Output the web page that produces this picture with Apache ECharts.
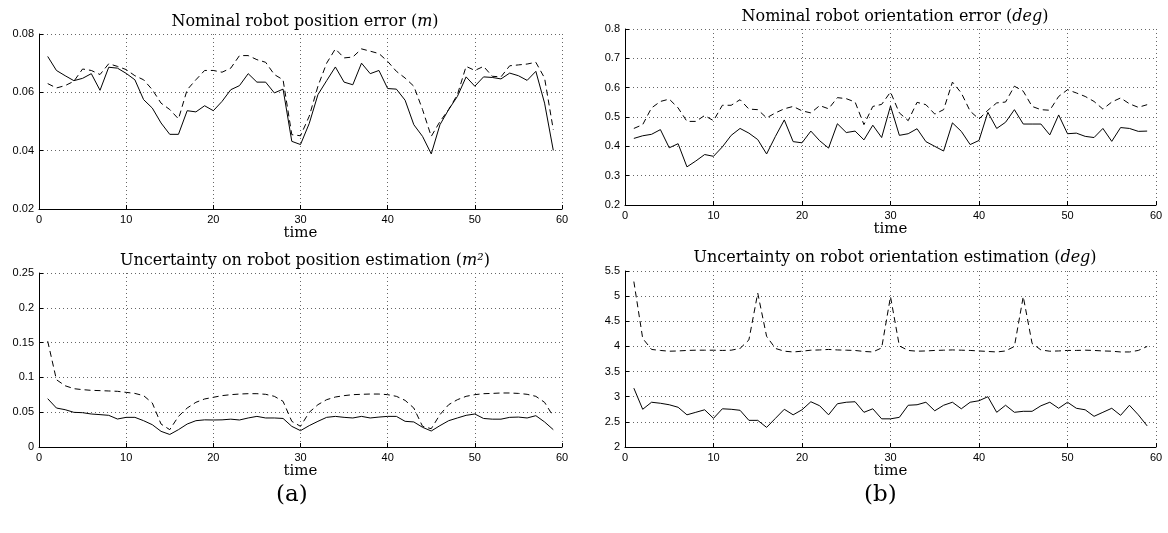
<!DOCTYPE html>
<html lang="en">
<head>
<meta charset="UTF-8">
<title>Robot localization errors</title>
<script src="https://cdn.jsdelivr.net/npm/echarts@6/dist/echarts.min.js"></script>
<style>
    html, body { margin: 0; padding: 0; background: #fff; }
    #container { width: 1168px; height: 533px; }
</style>
</head>
<body>
<div id="container"></div>
<script>
    // time steps (x axis)
    var time = [1, 2, 3, 4, 5, 6, 7, 8, 9, 10, 11, 12, 13, 14, 15, 16, 17, 18, 19, 20,
        21, 22, 23, 24, 25, 26, 27, 28, 29, 30, 31, 32, 33, 34, 35, 36, 37, 38, 39, 40,
        41, 42, 43, 44, 45, 46, 47, 48, 49, 50, 51, 52, 53, 54, 55, 56, 57, 58, 59];

    // (a) top: nominal robot position error (m)
    var posErrSolid = [0.0723, 0.0675, 0.0657, 0.064, 0.0648, 0.0664, 0.0607, 0.0686, 0.0683, 0.0665,
        0.0643, 0.0575, 0.0546, 0.0495, 0.0456, 0.0456, 0.0537, 0.0533, 0.0554, 0.0537,
        0.0569, 0.0609, 0.0623, 0.0664, 0.0635, 0.0635, 0.0598, 0.0611, 0.0432, 0.0421,
        0.0493, 0.0592, 0.064, 0.0687, 0.0635, 0.0626, 0.07, 0.0664, 0.0675, 0.0613,
        0.0611, 0.0573, 0.0489, 0.0449, 0.0389, 0.0489, 0.0541, 0.0586, 0.0653, 0.0621,
        0.0653, 0.0651, 0.0646, 0.0666, 0.0657, 0.0641, 0.0672, 0.0563, 0.0401];
    var posErrDashed = [0.063, 0.0615, 0.0623, 0.0638, 0.068, 0.0675, 0.0661, 0.0698, 0.0689, 0.0678,
        0.0657, 0.0643, 0.0609, 0.0563, 0.0541, 0.0509, 0.0609, 0.0643, 0.0675, 0.0675,
        0.0669, 0.0683, 0.0726, 0.0726, 0.0712, 0.0703, 0.0661, 0.0643, 0.0455, 0.0451,
        0.0518, 0.0621, 0.07, 0.0749, 0.0718, 0.0721, 0.0749, 0.0741, 0.0733, 0.0706,
        0.0672, 0.0649, 0.0621, 0.0541, 0.0449, 0.05, 0.0541, 0.0592, 0.0689, 0.0675,
        0.0689, 0.0655, 0.0653, 0.0691, 0.0694, 0.0697, 0.0703, 0.0649, 0.0472];

    // (a) bottom: uncertainty on robot position estimation (m^2)
    var posUncSolid = [0.0694, 0.056, 0.0536, 0.0498, 0.0493, 0.0474, 0.0465, 0.0455, 0.0402, 0.0426,
        0.0426, 0.0378, 0.032, 0.0225, 0.018, 0.0249, 0.033, 0.0378, 0.039, 0.0388,
        0.039, 0.04, 0.0388, 0.0417, 0.044, 0.0417, 0.0417, 0.041, 0.0297, 0.0235,
        0.0307, 0.0369, 0.0426, 0.044, 0.0426, 0.0417, 0.044, 0.0417, 0.043, 0.044,
        0.044, 0.0369, 0.036, 0.0283, 0.023, 0.0307, 0.0378, 0.0417, 0.0455, 0.0474,
        0.041, 0.04, 0.04, 0.0426, 0.043, 0.0417, 0.045, 0.036, 0.0249];
    var posUncDashed = [0.152, 0.0967, 0.088, 0.0838, 0.0824, 0.0814, 0.081, 0.0805, 0.08, 0.0785,
        0.077, 0.0738, 0.0632, 0.033, 0.0249, 0.044, 0.056, 0.0642, 0.069, 0.0714,
        0.0738, 0.0752, 0.0761, 0.0766, 0.0766, 0.0757, 0.0728, 0.0656, 0.0369, 0.0297,
        0.0498, 0.0608, 0.068, 0.0718, 0.0738, 0.0752, 0.0757, 0.0761, 0.0761, 0.0752,
        0.0728, 0.067, 0.056, 0.0297, 0.0263, 0.0465, 0.0608, 0.068, 0.0728, 0.0752,
        0.0766, 0.077, 0.0776, 0.0776, 0.077, 0.0757, 0.0728, 0.0642, 0.044];

    // (b) top: nominal robot orientation error (deg)
    var oriErrSolid = [0.427, 0.436, 0.441, 0.457, 0.395, 0.409, 0.33, 0.35, 0.372, 0.366,
        0.398, 0.4375, 0.461, 0.445, 0.423, 0.374, 0.434, 0.49, 0.416, 0.412,
        0.452, 0.419, 0.394, 0.477, 0.447, 0.452, 0.422, 0.472, 0.43, 0.5375,
        0.4375, 0.443, 0.46, 0.416, 0.4, 0.384, 0.48, 0.451, 0.406, 0.42,
        0.516, 0.461, 0.482, 0.525, 0.476, 0.476, 0.476, 0.439, 0.507, 0.443,
        0.445, 0.434, 0.43, 0.461, 0.417, 0.464, 0.461, 0.451, 0.452];
    var oriErrDashed = [0.461, 0.474, 0.531, 0.553, 0.561, 0.531, 0.485, 0.485, 0.505, 0.4875,
        0.54, 0.54, 0.559, 0.527, 0.525, 0.497, 0.514, 0.528, 0.536, 0.521,
        0.514, 0.539, 0.528, 0.566, 0.5625, 0.551, 0.474, 0.536, 0.543, 0.585,
        0.514, 0.4875, 0.55, 0.542, 0.51, 0.525, 0.619, 0.582, 0.52, 0.493,
        0.523, 0.548, 0.551, 0.605, 0.588, 0.536, 0.525, 0.523, 0.57, 0.593,
        0.582, 0.57, 0.553, 0.527, 0.551, 0.565, 0.545, 0.533, 0.542];

    // (b) bottom: uncertainty on robot orientation estimation (deg)
    var oriUncSolid = [3.17, 2.75, 2.89, 2.87, 2.84, 2.79, 2.64, 2.69, 2.74, 2.57,
        2.76, 2.75, 2.73, 2.53, 2.53, 2.39, 2.57, 2.75, 2.64, 2.74,
        2.90, 2.82, 2.64, 2.86, 2.89, 2.90, 2.69, 2.76, 2.56, 2.56,
        2.59, 2.83, 2.84, 2.89, 2.72, 2.83, 2.89, 2.76, 2.89, 2.92,
        3.0, 2.69, 2.83, 2.69, 2.71, 2.71, 2.82, 2.89, 2.77, 2.89,
        2.77, 2.74, 2.61, 2.69, 2.77, 2.63, 2.83, 2.64, 2.42];
    var oriUncDashed = [5.29, 4.16, 3.94, 3.92, 3.905, 3.91, 3.92, 3.925, 3.925, 3.925,
        3.92, 3.925, 3.96, 4.13, 5.06, 4.2, 3.96, 3.905, 3.89, 3.905,
        3.925, 3.93, 3.94, 3.93, 3.925, 3.92, 3.9, 3.89, 3.97, 4.99,
        4.01, 3.92, 3.905, 3.91, 3.92, 3.925, 3.93, 3.925, 3.92, 3.91,
        3.9, 3.89, 3.91, 4.0, 4.99, 4.06, 3.93, 3.905, 3.91, 3.92,
        3.92, 3.925, 3.92, 3.91, 3.905, 3.89, 3.89, 3.92, 4.0];

    var chart = echarts.init(document.getElementById('container'));

    var serifFont = 'DejaVu Serif';
    var sansFont = 'Liberation Sans';

    function pairs(values) {
        return time.map(function (t, i) { return [t, values[i]]; });
    }

    function xAxisFor(gridIndex) {
        return {
            type: 'value', gridIndex: gridIndex, min: 0, max: 60, interval: 10,
            name: 'time', nameLocation: 'middle', nameGap: 14,
            nameTextStyle: { fontFamily: serifFont, fontSize: 15, color: '#000' },
            axisLine: { lineStyle: { color: '#000', width: 1 } },
            axisTick: { inside: true, length: 4, lineStyle: { color: '#000' } },
            axisLabel: { fontFamily: sansFont, fontSize: 11, color: '#000', margin: 5 },
            splitLine: { show: true, lineStyle: { color: '#666', type: [1, 3], width: 1 } }
        };
    }

    function yAxisFor(gridIndex, min, max, interval) {
        return {
            type: 'value', gridIndex: gridIndex, min: min, max: max, interval: interval,
            axisLine: { show: true, lineStyle: { color: '#000', width: 1 } },
            axisTick: { show: true, inside: true, length: 4, lineStyle: { color: '#000' } },
            axisLabel: { fontFamily: sansFont, fontSize: 11, color: '#000', margin: 5 },
            splitLine: { show: true, lineStyle: { color: '#666', type: [1, 3], width: 1 } }
        };
    }

    function lineSeries(gridIndex, values, dashed) {
        return {
            type: 'line', xAxisIndex: gridIndex, yAxisIndex: gridIndex,
            data: pairs(values), symbol: 'none', silent: true,
            lineStyle: { color: '#000', width: 1, type: dashed ? [6, 4] : 'solid' }
        };
    }

    var titleRich = {
        it: { fontFamily: serifFont, fontSize: 16, fontStyle: 'italic', color: '#000' }
    };

    function titleFor(text, x, y) {
        return {
            text: text, left: x, top: y, textAlign: 'center',
            textStyle: { fontFamily: serifFont, fontSize: 16, fontWeight: 'normal', color: '#000', rich: titleRich }
        };
    }

    var option = {
        backgroundColor: '#fff',
        animation: false,
        title: [
            titleFor('Nominal robot position error ({it|m})', 300, 9),
            titleFor('Uncertainty on robot position estimation ({it|m²})', 300, 248),
            titleFor('Nominal robot orientation error ({it|deg})', 890, 4),
            titleFor('Uncertainty on robot orientation estimation ({it|deg})', 890, 245)
        ],
        grid: [
            { left: 39, top: 34, width: 523, height: 175, outerBoundsMode: 'none' },
            { left: 39, top: 273, width: 523, height: 174, outerBoundsMode: 'none' },
            { left: 625, top: 29, width: 531, height: 176, outerBoundsMode: 'none' },
            { left: 625, top: 271, width: 531, height: 176, outerBoundsMode: 'none' }
        ],
        xAxis: [xAxisFor(0), xAxisFor(1), xAxisFor(2), xAxisFor(3)],
        yAxis: [
            yAxisFor(0, 0.02, 0.08, 0.02),
            yAxisFor(1, 0, 0.25, 0.05),
            yAxisFor(2, 0.2, 0.8, 0.1),
            yAxisFor(3, 2, 5.5, 0.5)
        ],
        graphic: [
            { type: 'text', left: 276, top: 484, style: { text: '(a)', fontFamily: serifFont, fontSize: 23, fill: '#000' } },
            { type: 'text', left: 864, top: 484, style: { text: '(b)', fontFamily: serifFont, fontSize: 23, fill: '#000' } }
        ],
        series: [
            lineSeries(0, posErrSolid, false),
            lineSeries(0, posErrDashed, true),
            lineSeries(1, posUncSolid, false),
            lineSeries(1, posUncDashed, true),
            lineSeries(2, oriErrSolid, false),
            lineSeries(2, oriErrDashed, true),
            lineSeries(3, oriUncSolid, false),
            lineSeries(3, oriUncDashed, true)
        ]
    };

    chart.setOption(option);
</script>
</body>
</html>
